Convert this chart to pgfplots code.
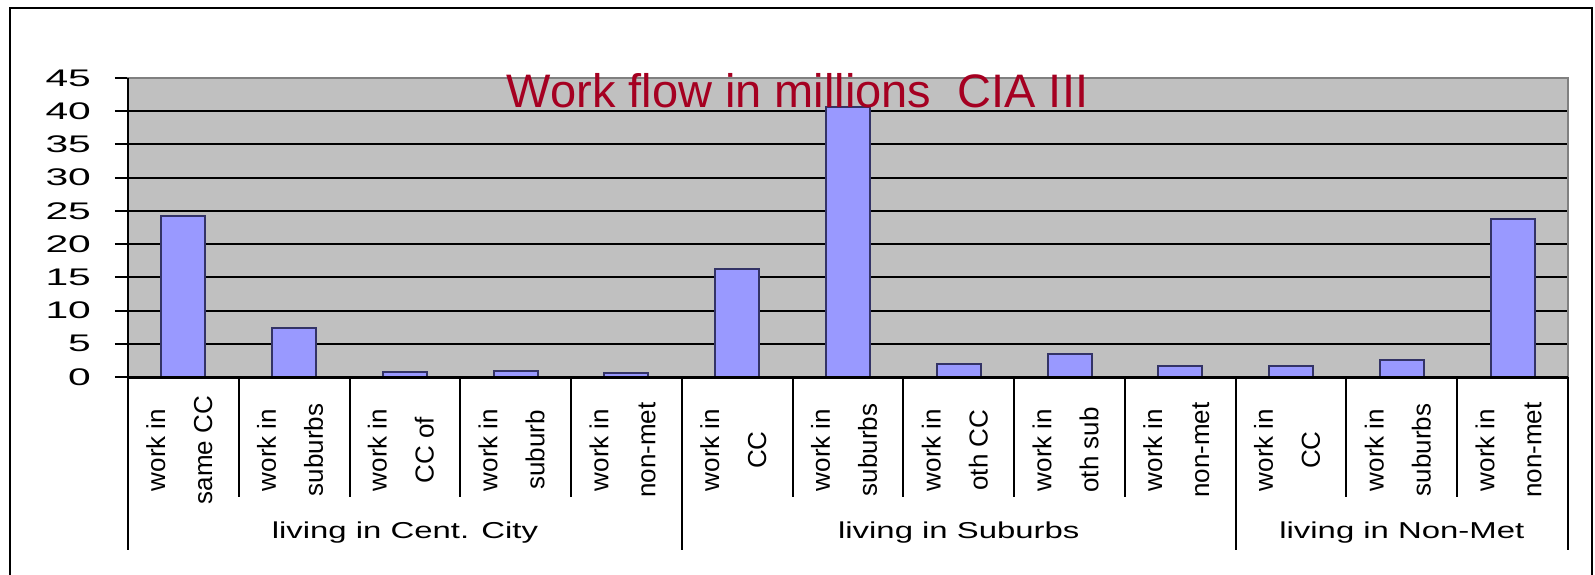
\documentclass[border=0pt]{standalone}
\usepackage{pgfplots}
\pgfplotsset{compat=1.18}
\usepackage{fontspec}
\setmainfont{Liberation Sans}
\usepackage{graphicx}

\definecolor{barfill}{HTML}{9999FF}
\definecolor{baredge}{HTML}{333366}
\definecolor{plotbg}{HTML}{C0C0C0}
\definecolor{bordergray}{HTML}{808080}
\definecolor{titlered}{HTML}{A50021}

\begin{document}
\begin{tikzpicture}
\useasboundingbox (-64pt,-98.5pt) rectangle (733.5pt,188.5pt);
% outer frame
\draw[line width=1pt] (-59pt,-110pt) -- (-59pt,184.5pt) -- (732pt,184.5pt) -- (732pt,-110pt);

\begin{axis}[
    at={(0,0)}, anchor=south west,
    scale only axis,
    width=720pt, height=149.5pt,
    xmin=0.5, xmax=13.5,
    ymin=0, ymax=45,
    ybar, bar width=22pt,
    axis background/.style={fill=plotbg},
    axis line style={bordergray, line width=1.2pt},
    ymajorgrids,
    major grid style={black, line width=1pt},
    ytick={0,5,...,45},
    ytick pos=left,
    tick align=outside,
    major tick length=6.5pt,
    ytick style={black, line width=1pt},
    /pgf/number format/assume math mode=true,
    yticklabel={\scalebox{1.7}[1]{\pgfmathprintnumber{\tick}}},
    yticklabel style={font=\fontsize{12}{14}\selectfont, anchor=east, xshift=-8.5pt},
    xtick={1,...,13},
    xtick style={draw=none},
    xticklabels={
      {work in\\same CC},{work in\\suburbs},{work in\\CC of},{work in\\suburb},{work in\\non-met},
      {work in\\CC},{work in\\suburbs},{work in\\oth CC},{work in\\oth sub},{work in\\non-met},
      {work in\\CC},{work in\\suburbs},{work in\\non-met}},
    xticklabel style={yshift=-30pt, xshift=-2pt, rotate=90, anchor=center,
      align=center, font=\fontsize{13}{23.5}\selectfont},
    clip=false,
]

\addplot[fill=barfill, draw=baredge, line width=1pt] coordinates {
    (1,24.2) (2,7.4) (3,0.7) (4,0.85) (5,0.6)
    (6,16.3) (7,40.7) (8,1.9) (9,3.4) (10,1.6)
    (11,1.6) (12,2.5) (13,23.8)
};

% left and bottom axis lines in black
\draw[black, line width=1pt] (rel axis cs:0,0) -- (rel axis cs:0,1);
\draw[black, line width=1.5pt] (rel axis cs:0,0) -- (rel axis cs:1,0);

% category separators
\pgfplotsinvokeforeach{1.5,2.5,3.5,4.5,6.5,7.5,8.5,9.5,11.5,12.5}{
  \draw[black, line width=1pt] (axis cs:#1,0) -- ([yshift=-60pt]axis cs:#1,0);
}
% group separators
\pgfplotsinvokeforeach{0.5,5.5,10.5,13.5}{
  \draw[black, line width=1pt] (axis cs:#1,0) -- ([yshift=-86.5pt]axis cs:#1,0);
}

% group labels
\node[font=\fontsize{11.5}{14}\selectfont] at ([yshift=-78pt]axis cs:3,0) {\scalebox{1.43}[1]{living in Cent. City}};
\node[font=\fontsize{11.5}{14}\selectfont] at ([yshift=-78pt]axis cs:8,0) {\scalebox{1.43}[1]{living in Suburbs}};
\node[font=\fontsize{11.5}{14}\selectfont] at ([yshift=-78pt]axis cs:12,0) {\scalebox{1.43}[1]{living in Non-Met}};

% title
\node[anchor=base, text=titlered, font=\fontsize{23.5}{28}\selectfont] at (axis cs:6.544,40.5) {Work flow in millions\ \ CIA III};
\end{axis}
\end{tikzpicture}
\end{document}
